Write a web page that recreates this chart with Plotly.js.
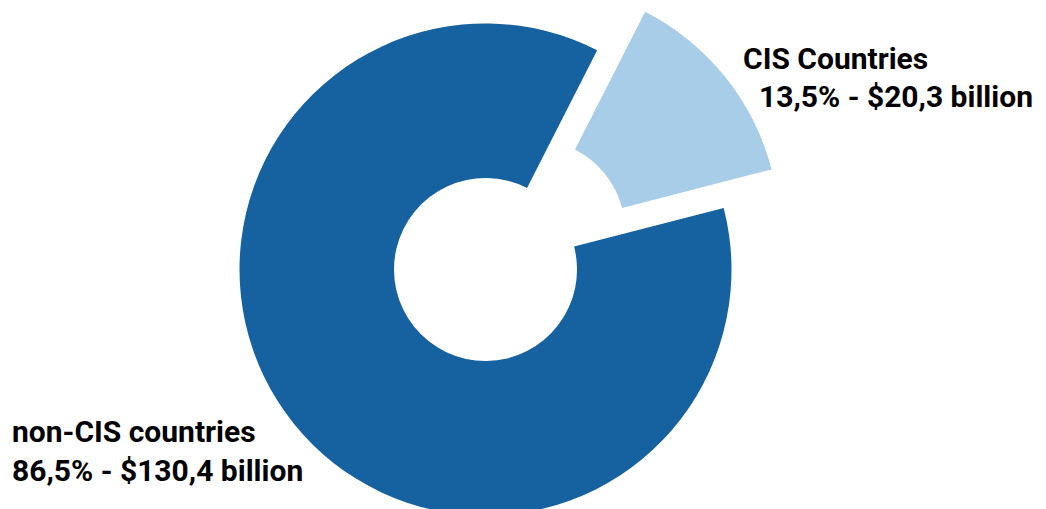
<!DOCTYPE html>
<html>
<head>
<meta charset="utf-8">
<script src="https://cdn.plot.ly/plotly-3.0.1.min.js"></script>
<style>
  html, body { margin: 0; padding: 0; width: 1046px; height: 509px; overflow: hidden; background: #ffffff; }
  #chart { position: absolute; left: 0; top: -38px; width: 1046px; height: 615px; }
</style>
</head>
<body>
<div id="chart"></div>
<script>
// ---- data ----
const categories = ['CIS Countries', 'non-CIS countries'];
const valuesBn = [20.3, 130.4];          // $ billion
const sharePct = [13.5, 86.5];           // percent share
const sliceColors = ['#A7CDE9', '#1661A0'];
const pulls = [0.25, 0];

const W = 1046, H = 615, TOP = 38;       // plot div geometry (div starts 38px above page)
const fmt = v => String(v).replace('.', ',');
const valueLine = i => fmt(sharePct[i].toFixed(1)) + '% - $' + fmt(valuesBn[i].toFixed(1)) + ' billion';

// label anchor points (page pixels): [left x, vertical centre of line]
const labelPos = [
  { name: [741, 58], value: [757, 96] },
  { name: [10, 431], value: [10, 470] }
];
const px = x => x / W;
const py = y => 1 - (y + TOP) / H;
const font = { family: 'Roboto, Liberation Sans, Arial, sans-serif', size: 30, color: '#000000', weight: 'bold' };

const annotations = [];
categories.forEach((c, i) => {
  annotations.push({ text: c, x: px(labelPos[i].name[0]), y: py(labelPos[i].name[1]),
    xref: 'paper', yref: 'paper', xanchor: 'left', yanchor: 'middle', showarrow: false, font: font });
  annotations.push({ text: valueLine(i), x: px(labelPos[i].value[0]), y: py(labelPos[i].value[1]),
    xref: 'paper', yref: 'paper', xanchor: 'left', yanchor: 'middle', showarrow: false, font: font });
});

const centerX = 485.5;
const trace = {
  type: 'pie',
  labels: categories,
  values: valuesBn,
  marker: { colors: sliceColors, line: { width: 0 } },
  pull: pulls,
  hole: 0.372,
  sort: false,
  direction: 'clockwise',
  rotation: 27,
  textinfo: 'none',
  hoverinfo: 'label+value+percent',
  domain: { x: [(centerX - H / 2) / W, (centerX + H / 2) / W], y: [0, 1] }
};

Plotly.newPlot('chart', [trace], {
  width: W, height: H,
  margin: { l: 0, r: 0, t: 0, b: 0, pad: 0 },
  showlegend: false,
  paper_bgcolor: '#ffffff',
  annotations: annotations
}, { displayModeBar: false, staticPlot: true });
</script>
</body>
</html>
